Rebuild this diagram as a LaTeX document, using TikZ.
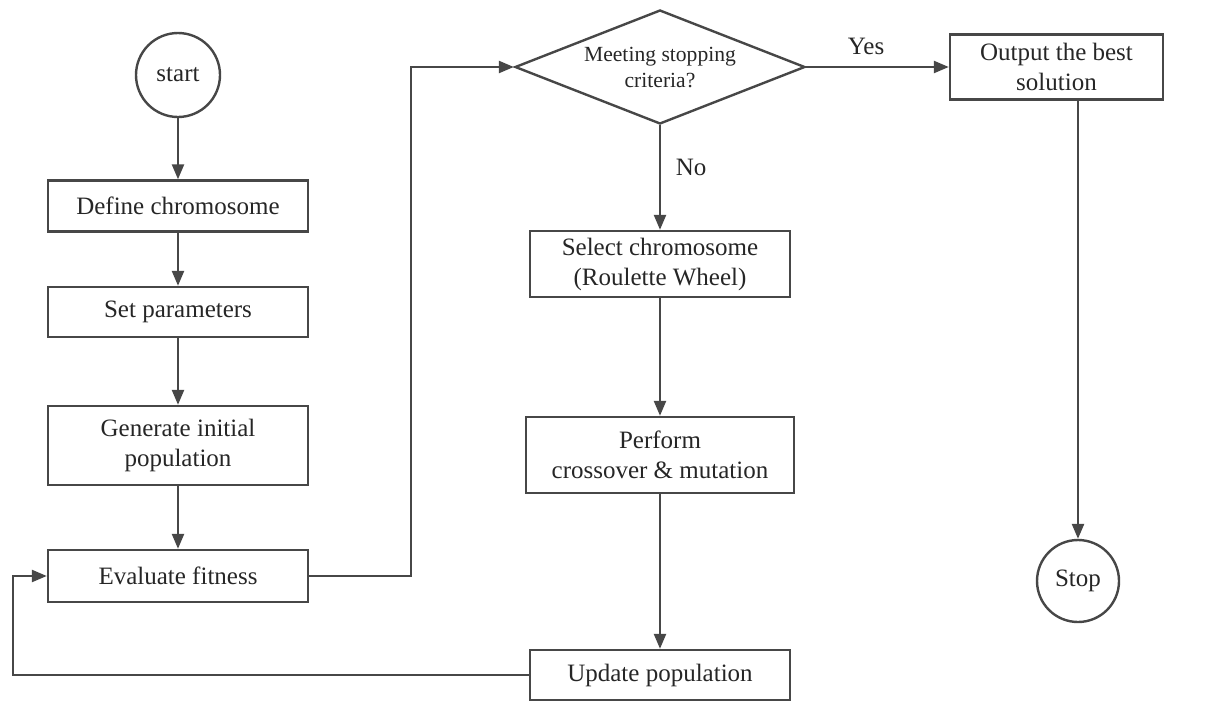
\documentclass[tikz,border=0pt]{standalone}
\usepackage{fontspec}
\setmainfont{Liberation Serif}
\usetikzlibrary{arrows.meta,shapes.geometric}
\begin{document}
\begin{tikzpicture}[x=0.5pt,y=-0.5pt,
  line width=1.2pt,
  box/.style={draw=black!72, rectangle, inner sep=0pt, align=center,
    font=\rmfamily\fontsize{12.5}{15}\selectfont, text=black!85},
  term/.style={draw=black!72, circle, inner sep=0pt, minimum size=42pt,
    font=\rmfamily\fontsize{12.5}{15}\selectfont, text=black!85},
  decision/.style={draw=black!72, diamond, inner sep=0pt, aspect=2.55,
    minimum width=145pt, minimum height=57pt, align=center,
    font=\rmfamily\fontsize{10.8}{13}\selectfont, text=black!85},
  lbl/.style={font=\rmfamily\fontsize{12.5}{15}\selectfont, text=black!85},
  flow/.style={-{Triangle[length=7.5pt,width=6pt]}, draw=black!72}]
\useasboundingbox (0,0) rectangle (1209,702);

% left column
\node[term] (start) at (178,75) {start};
\node[box, minimum width=130pt, minimum height=25.5pt] (define) at (178,206) {Define chromosome};
\node[box, minimum width=130pt, minimum height=25pt] (params) at (178,312) {Set parameters};
\node[box, minimum width=130pt, minimum height=39.5pt] (init) at (178,445.5) {Generate initial\\population};
\node[box, minimum width=130pt, minimum height=26pt] (eval) at (178,576) {Evaluate fitness};

% middle column
\node[decision] (crit) at (660,67) {Meeting stopping\\criteria?};
\node[box, minimum width=130pt, minimum height=33pt] (select) at (660,264) {Select chromosome\\(Roulette Wheel)};
\node[box, minimum width=134pt, minimum height=38pt] (cross) at (660,455) {Perform\\crossover \& mutation};
\node[box, minimum width=130pt, minimum height=25pt] (update) at (660,675) {Update population};

% right column
\node[box, minimum width=106.5pt, minimum height=32.5pt] (best) at (1056.5,67) {Output the best\\solution};
\node[term, minimum size=41pt] (stop) at (1078,581) {Stop};

% connectors
\draw[flow] (start) -- (define);
\draw[flow] (define) -- (params);
\draw[flow] (params) -- (init);
\draw[flow] (init) -- (eval);
\draw[flow] (eval.east) -- (411,576) -- (411,67) -- (crit.west);
\draw[flow] (crit.east) -- node[lbl, above=2pt, pos=0.42] {Yes} (best.west);
\draw[flow] (crit.south) -- node[lbl, right=4pt, pos=0.4] {No} (select.north);
\draw[flow] (select) -- (cross);
\draw[flow] (cross) -- (update);
\draw[flow] (update.west) -- (13,675) -- (13,576) -- (eval.west);
\draw[flow] (best.south -| stop.north) -- (stop.north);
\end{tikzpicture}
\end{document}
